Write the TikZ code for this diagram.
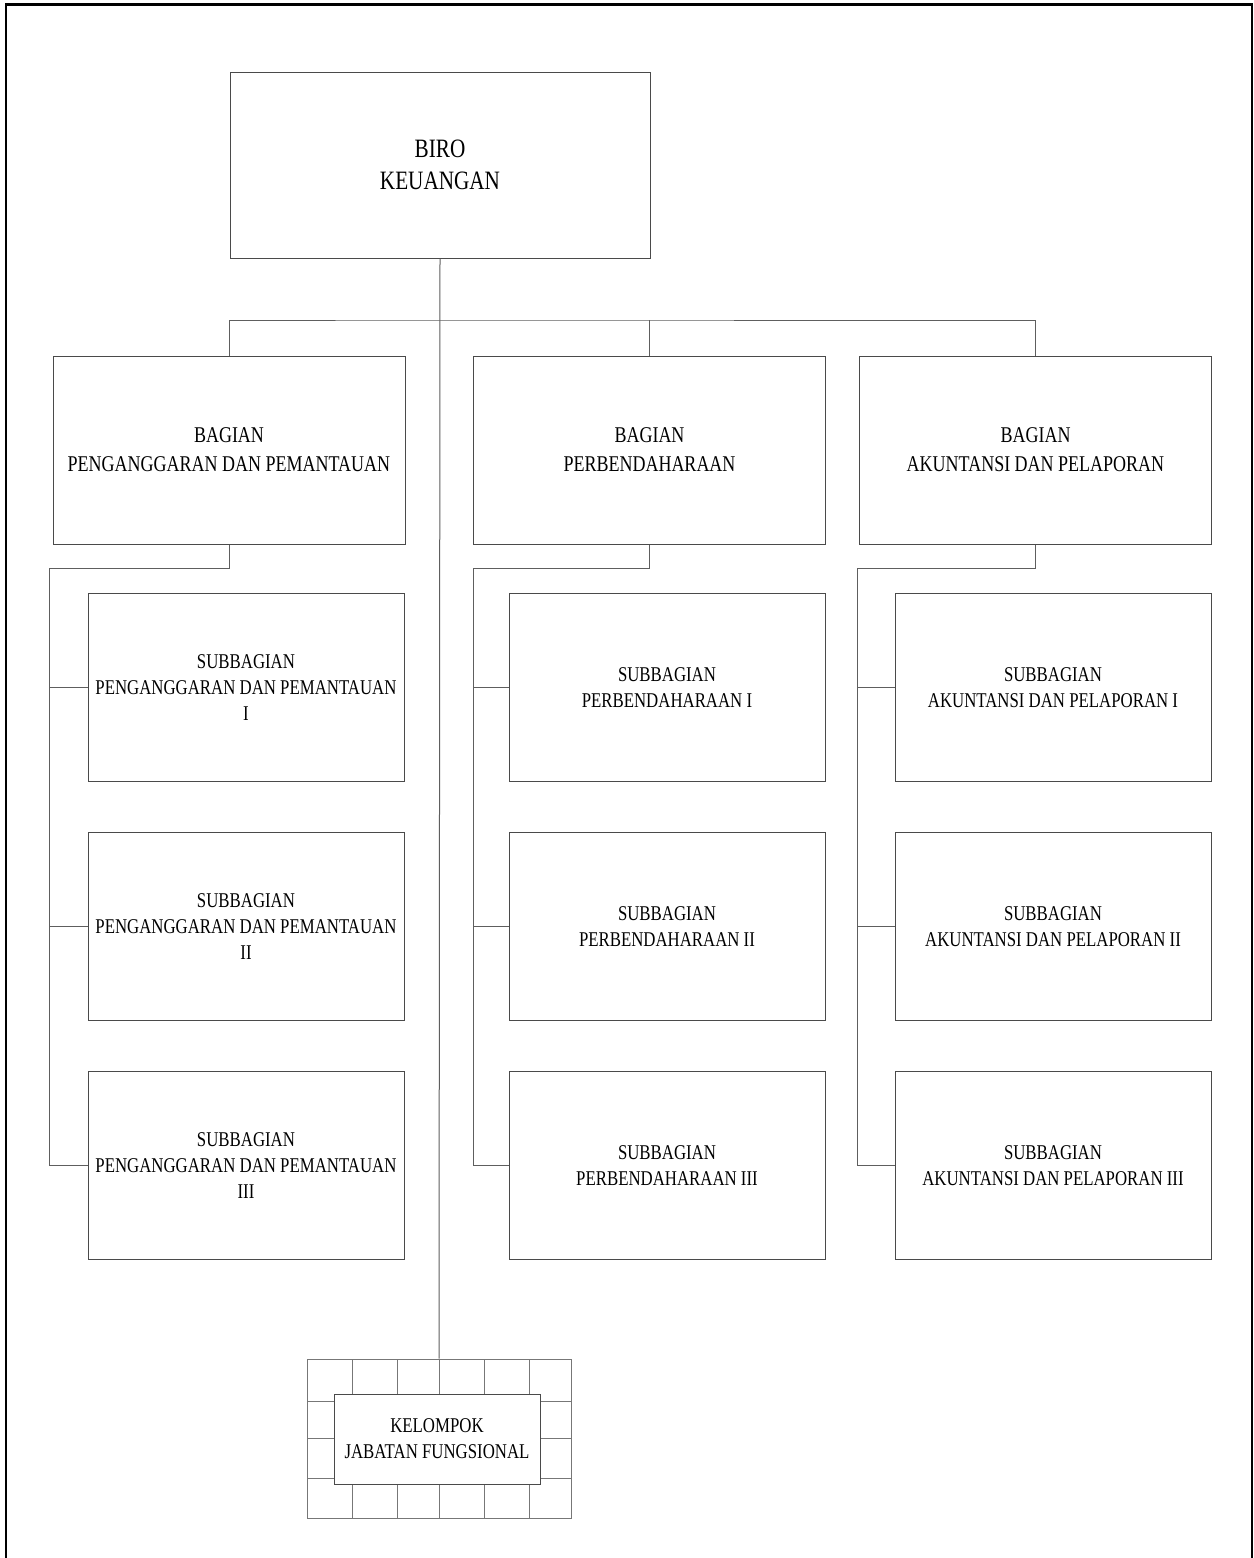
\documentclass[tikz,border=0pt]{standalone}
\usepackage{fontspec}
\setmainfont{Liberation Serif}[FakeStretch=0.8]
\definecolor{boxline}{HTML}{4A4A4A}
\definecolor{connline}{HTML}{5E5E5E}
\definecolor{gridline}{HTML}{777777}
\begin{document}
\begin{tikzpicture}[x=1pt,y=-1pt,
  box/.style={draw=boxline,line width=1pt,fill=white,inner sep=0pt,align=center,text=black},
  birobox/.style={box,minimum width=420pt,minimum height=186pt,font=\fontsize{26.5}{32}\selectfont},
  bagbox/.style={box,minimum width=352pt,minimum height=188pt,font=\fontsize{22.5}{29}\selectfont},
  subbox/.style={box,minimum width=316pt,minimum height=188pt,font=\fontsize{21}{26}\selectfont},
  kelbox/.style={box,minimum width=206pt,minimum height=90pt,font=\fontsize{21}{26}\selectfont},
  conn/.style={draw=connline,line width=1pt},
  gridln/.style={draw=gridline,line width=1pt},
  frameln/.style={draw=black,line width=2.2pt}]
\useasboundingbox (0,0) rectangle (1253,1558);
% outer frame (no bottom edge)
\draw[frameln] (6,1560) -- (6,4.5) -- (1251.8,4.5) -- (1251.8,1560);

% top
\node[birobox] (biro) at (440,165) {BIRO\\KEUANGAN};

% bagian
\node[bagbox] (bL) at (229,450) {BAGIAN\\PENGANGGARAN DAN PEMANTAUAN};
\node[bagbox] (bM) at (649.5,450) {BAGIAN\\PERBENDAHARAAN};
\node[bagbox] (bR) at (1035.5,450) {BAGIAN\\AKUNTANSI DAN PELAPORAN};

% subbagian
\node[subbox] (sL1) at (246,687.5) {SUBBAGIAN\\PENGANGGARAN DAN PEMANTAUAN\\I};
\node[subbox] (sL2) at (246,926.5) {SUBBAGIAN\\PENGANGGARAN DAN PEMANTAUAN\\II};
\node[subbox] (sL3) at (246,1165.5) {SUBBAGIAN\\PENGANGGARAN DAN PEMANTAUAN\\III};
\node[subbox] (sM1) at (667,687.5) {SUBBAGIAN\\PERBENDAHARAAN I};
\node[subbox] (sM2) at (667,926.5) {SUBBAGIAN\\PERBENDAHARAAN II};
\node[subbox] (sM3) at (667,1165.5) {SUBBAGIAN\\PERBENDAHARAAN III};
\node[subbox] (sR1) at (1053,687.5) {SUBBAGIAN\\AKUNTANSI DAN PELAPORAN I};
\node[subbox] (sR2) at (1053,926.5) {SUBBAGIAN\\AKUNTANSI DAN PELAPORAN II};
\node[subbox] (sR3) at (1053,1165.5) {SUBBAGIAN\\AKUNTANSI DAN PELAPORAN III};

% functional group grid
\node[draw=gridline,line width=1pt,minimum width=264pt,minimum height=159pt,inner sep=0pt] (grid) at (439,1438.5) {};
\foreach \gx in {352,397,439,484,529} {\draw[gridln] (\gx,1359) -- (\gx,1518);}
\foreach \gy in {1401,1438,1478} {\draw[gridln] (307,\gy) -- (571,\gy);}
\node[kelbox] (kel) at (437,1439) {KELOMPOK\\JABATAN FUNGSIONAL};

% connectors
\coordinate (bus) at (439,320);
\draw[conn] (biro.south) -- (grid.north);
\draw[conn] (bL.north) |- (bus) -| (bR.north);
\draw[conn] (bM.north) -- (bM.north |- bus);

\coordinate (eL) at (49,568);
\coordinate (eM) at (473,568);
\coordinate (eR) at (857,568);
\draw[conn] (bL.south) |- (eL) |- (sL3.west);
\draw[conn] (eL |- sL1.west) -- (sL1.west);
\draw[conn] (eL |- sL2.west) -- (sL2.west);
\draw[conn] (bM.south) |- (eM) |- (sM3.west);
\draw[conn] (eM |- sM1.west) -- (sM1.west);
\draw[conn] (eM |- sM2.west) -- (sM2.west);
\draw[conn] (bR.south) |- (eR) |- (sR3.west);
\draw[conn] (eR |- sR1.west) -- (sR1.west);
\draw[conn] (eR |- sR2.west) -- (sR2.west);
\end{tikzpicture}
\end{document}
